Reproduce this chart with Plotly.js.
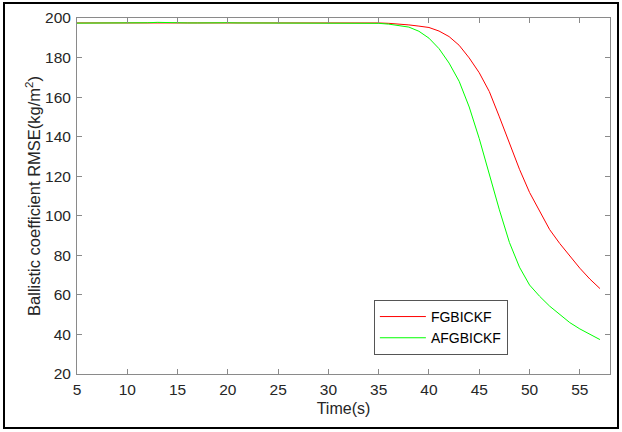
<!DOCTYPE html>
<html>
<head>
<meta charset="utf-8">
<script src="https://cdn.plot.ly/plotly-3.0.1.min.js"></script>
<style>
  html, body { margin: 0; padding: 0; background: #fff; }
  #wrap { position: relative; width: 622px; height: 432px; }
  #chart { position: absolute; left: 0; top: 0; width: 622px; height: 432px; }
  #frame { position: absolute; left: 3px; top: 2px; width: 612px; height: 423px; border: 2px solid #000; pointer-events: none; }
</style>
</head>
<body>
<div id="wrap">
  <div id="chart"></div>
  <div id="frame"></div>
</div>
<script>
// Time (s)
const time = [5,6,7,8,9,10,11,12,13,14,15,16,17,18,19,20,21,22,23,24,25,26,27,28,29,30,
  31,32,33,34,35,36,37,38,39,40,41,42,43,44,45,46,47,48,49,50,51,52,53,54,55,56,57];

// FGBICKF ballistic coefficient RMSE (kg/m^2)
const fgbickf = [197.5,197.5,197.5,197.5,197.5,197.6,197.6,197.6,197.7,197.6,197.6,197.6,197.6,197.6,197.6,197.6,197.6,197.6,197.6,197.6,197.6,197.6,197.6,197.6,197.6,197.6,
  197.6,197.7,197.7,197.6,197.5,197.3,197.0,196.5,195.9,195.2,193.4,190.6,186.2,179.8,172.3,162.8,150.0,136.5,123.5,111.8,102.0,93.0,86.0,79.5,73.5,68.0,63.2];

// AFGBICKF ballistic coefficient RMSE (kg/m^2)
const afgbickf = [197.4,197.4,197.4,197.5,197.5,197.5,197.5,197.6,197.8,197.6,197.5,197.5,197.5,197.6,197.7,197.6,197.5,197.5,197.5,197.6,197.6,197.6,197.5,197.4,197.3,197.3,
  197.3,197.4,197.5,197.5,197.3,196.9,196.3,195.4,193.3,189.8,184.5,177.2,168.0,155.0,139.0,120.5,103.0,86.5,74.0,65.0,59.3,54.3,50.2,46.0,42.8,40.0,37.4];

const seriesNames = ['FGBICKF', 'AFGBICKF'];
const xTicks = [5,10,15,20,25,30,35,40,45,50,55];
const yTicks = [20,40,60,80,100,120,140,160,180,200];

const FONT = 'Arial, "Liberation Sans", Helvetica, sans-serif';
const AX = '#8a8a8a';

const traces = [
  { x: time, y: fgbickf, name: seriesNames[0], type: 'scatter', mode: 'lines',
    line: { color: '#ff0000', width: 1 } },
  { x: time, y: afgbickf, name: seriesNames[1], type: 'scatter', mode: 'lines',
    line: { color: '#00ff00', width: 1 } }
];

const axisCommon = {
  showgrid: false, zeroline: false, showline: true, linecolor: AX, linewidth: 1,
  mirror: 'ticks', ticks: 'inside', ticklen: 5, tickcolor: AX, tickwidth: 1,
  tickfont: { family: FONT, size: 15.5, color: '#262626' }
};

const layout = {
  width: 622, height: 432,
  margin: { l: 77, r: 12, t: 18, b: 58 },
  paper_bgcolor: '#fff', plot_bgcolor: '#fff',
  font: { family: FONT, color: '#262626' },
  showlegend: true,
  legend: {
    x: 0.557, y: 0.208, xanchor: 'left', yanchor: 'top',
    bordercolor: '#555', borderwidth: 1, bgcolor: '#fff',
    font: { family: FONT, size: 14, color: '#000' },
    tracegroupgap: 0, itemwidth: 46
  },
  xaxis: Object.assign({}, axisCommon, {
    range: [5, 58], tickvals: xTicks, ticktext: xTicks.map(String), ticklabelstandoff: 1,
    title: { text: 'Time(s)', font: { family: FONT, size: 16, color: '#262626' }, standoff: 6 }
  }),
  yaxis: Object.assign({}, axisCommon, {
    range: [20, 200], tickvals: yTicks, ticktext: yTicks.map(String), ticklabelstandoff: 2,
    title: { text: 'Ballistic coefficient RMSE(kg/m<sup>2</sup>)', font: { family: FONT, size: 16.5, color: '#262626' }, standoff: 0 }
  })
};

Plotly.newPlot('chart', traces, layout, { staticPlot: true, displayModeBar: false });
</script>
</body>
</html>
